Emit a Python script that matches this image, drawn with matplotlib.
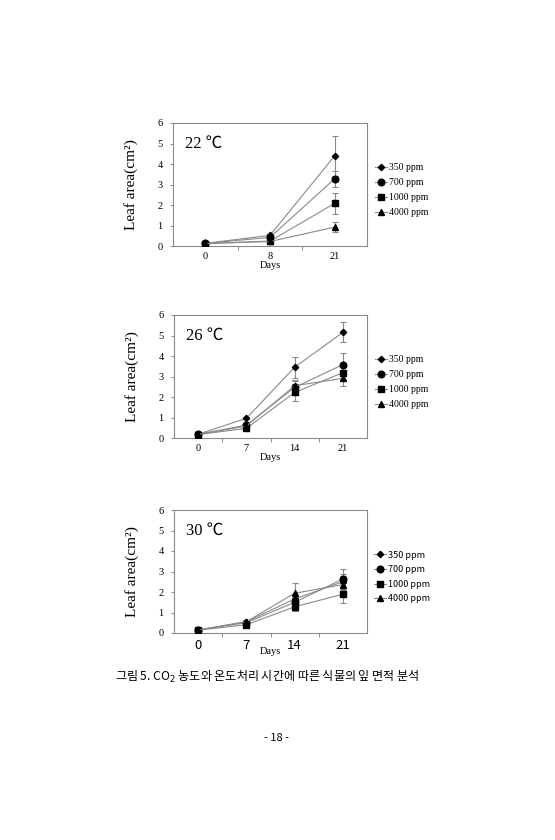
import matplotlib
matplotlib.use("Agg")
import matplotlib.pyplot as plt
import numpy as np

# ---- data ----
series = ["350 ppm", "700 ppm", "1000 ppm", "4000 ppm"]
markers = ["D", "o", "s", "^"]
msizes = [3.2, 4.8, 4.6, 4.6]

days_22 = ["0", "8", "21"]
vals_22 = {
    "350 ppm": [0.13, 0.52, 4.40],
    "700 ppm": [0.13, 0.42, 3.28],
    "1000 ppm": [0.12, 0.24, 2.08],
    "4000 ppm": [0.12, 0.22, 0.92],
}
err_22 = {
    "350 ppm": [0.02, 0.05, 0.97],
    "700 ppm": [0.02, 0.05, 0.40],
    "1000 ppm": [0.02, 0.04, 0.50],
    "4000 ppm": [0.02, 0.03, 0.23],
}

days_26 = ["0", "7", "14", "21"]
vals_26 = {
    "350 ppm": [0.18, 0.96, 3.45, 5.15],
    "700 ppm": [0.18, 0.63, 2.47, 3.58],
    "1000 ppm": [0.17, 0.47, 2.22, 3.19],
    "4000 ppm": [0.17, 0.58, 2.55, 2.91],
}
err_26 = {
    "350 ppm": [0.02, 0.05, 0.52, 0.49],
    "700 ppm": [0.02, 0.05, 0.30, 0.55],
    "1000 ppm": [0.02, 0.05, 0.40, 0.30],
    "4000 ppm": [0.02, 0.05, 0.30, 0.37],
}

days_30 = ["0", "7", "14", "21"]
vals_30 = {
    "350 ppm": [0.15, 0.55, 1.66, 2.50],
    "700 ppm": [0.15, 0.50, 1.50, 2.63],
    "1000 ppm": [0.14, 0.40, 1.28, 1.89],
    "4000 ppm": [0.14, 0.55, 1.94, 2.36],
}
err_30 = {
    "350 ppm": [0.02, 0.05, 0.20, 0.40],
    "700 ppm": [0.02, 0.05, 0.20, 0.50],
    "1000 ppm": [0.02, 0.05, 0.20, 0.41],
    "4000 ppm": [0.02, 0.05, 0.48, 0.40],
}

yticks = [0, 1, 2, 3, 4, 5, 6]

SERIF = ["Liberation Serif", "DejaVu Serif"]
SANS = ["Noto Sans CJK KR", "DejaVu Sans"]

fig = plt.figure(figsize=(5.55, 8.4), dpi=100)
fig.patch.set_facecolor("white")

W, H = 555.0, 840.0
GRAY = "#8a8a8a"

panels = [
    ("22 ℃", days_22, vals_22, err_22, (173, 367, 123, 246), "serif"),
    ("26 ℃", days_26, vals_26, err_26, (174, 367, 315, 438), "serif"),
    ("30 ℃", days_30, vals_30, err_30, (174, 367, 510, 633), "sans"),
]

for title, days, vals, errs, (x0, x1, y0, y1), style in panels:
    ax = fig.add_axes([x0 / W, 1 - y1 / H, (x1 - x0) / W, (y1 - y0) / H])
    n = len(days)
    xs = np.arange(n)
    handles = []
    for s, m, ms in zip(series, markers, msizes):
        ax.errorbar(xs, vals[s], yerr=errs[s], fmt="none", ecolor=GRAY,
                    elinewidth=0.8, capsize=2, capthick=0.8, zorder=2)
        h, = ax.plot(xs, vals[s], color=GRAY, lw=0.8, marker=m, ms=ms,
                     mfc="black", mec="black", label=s, zorder=3)
        handles.append(h)
    ax.set_xlim(-0.5, n - 0.5)
    ax.set_ylim(0, 6)
    ax.set_yticks(yticks)
    ax.set_yticklabels([str(t) for t in yticks], family=SERIF, fontsize=7.5)
    ax.set_xticks(xs)
    if style == "serif":
        ax.set_xticklabels(days, family=SERIF, fontsize=7.5)
        xl_pad = 0
    else:
        ax.set_xticklabels(days, family=SANS, fontsize=9.5)
        xl_pad = -3
    ax.tick_params(axis="x", which="major", length=0, pad=4)
    ax.set_xticks(np.arange(0.5, n - 1, 1.0), minor=True)
    ax.tick_params(axis="x", which="minor", length=3, direction="out", color=GRAY, width=0.7)
    ax.tick_params(axis="y", length=2.5, direction="out", color=GRAY, width=0.7, pad=5)
    for sp in ax.spines.values():
        sp.set_color(GRAY)
        sp.set_linewidth(0.8)
    ax.set_xlabel("Days", family=SERIF, fontsize=7.5, labelpad=xl_pad)
    ax.set_ylabel("Leaf area(cm²)", family=SERIF, fontsize=11, labelpad=14)
    ax.text(0.06, 0.90, title, transform=ax.transAxes, ha="left", va="top",
            family=["Liberation Serif", "Noto Sans CJK KR"], fontsize=12)
    leg = ax.legend(handles=handles, loc="center left",
                    bbox_to_anchor=(1.02, 0.455), frameon=False,
                    handlelength=1.3, handletextpad=0.2, labelspacing=0.62,
                    borderaxespad=0.0,
                    prop={"family": SERIF if style == "serif" else SANS,
                          "size": 7 if style == "serif" else 6.5})

fig.text(267 / W, 1 - 677 / H,
         "그림 5. CO$_2$ 농도와 온도처리 시간에 따른 식물의 잎 면적 분석",
         ha="center", va="center", family=SANS, fontsize=8.7)
fig.text(277 / W, 1 - 738 / H, "- 18 -", ha="center", va="center",
         family=SANS, fontsize=8)

fig.savefig("out.png", dpi=100, facecolor="white")
